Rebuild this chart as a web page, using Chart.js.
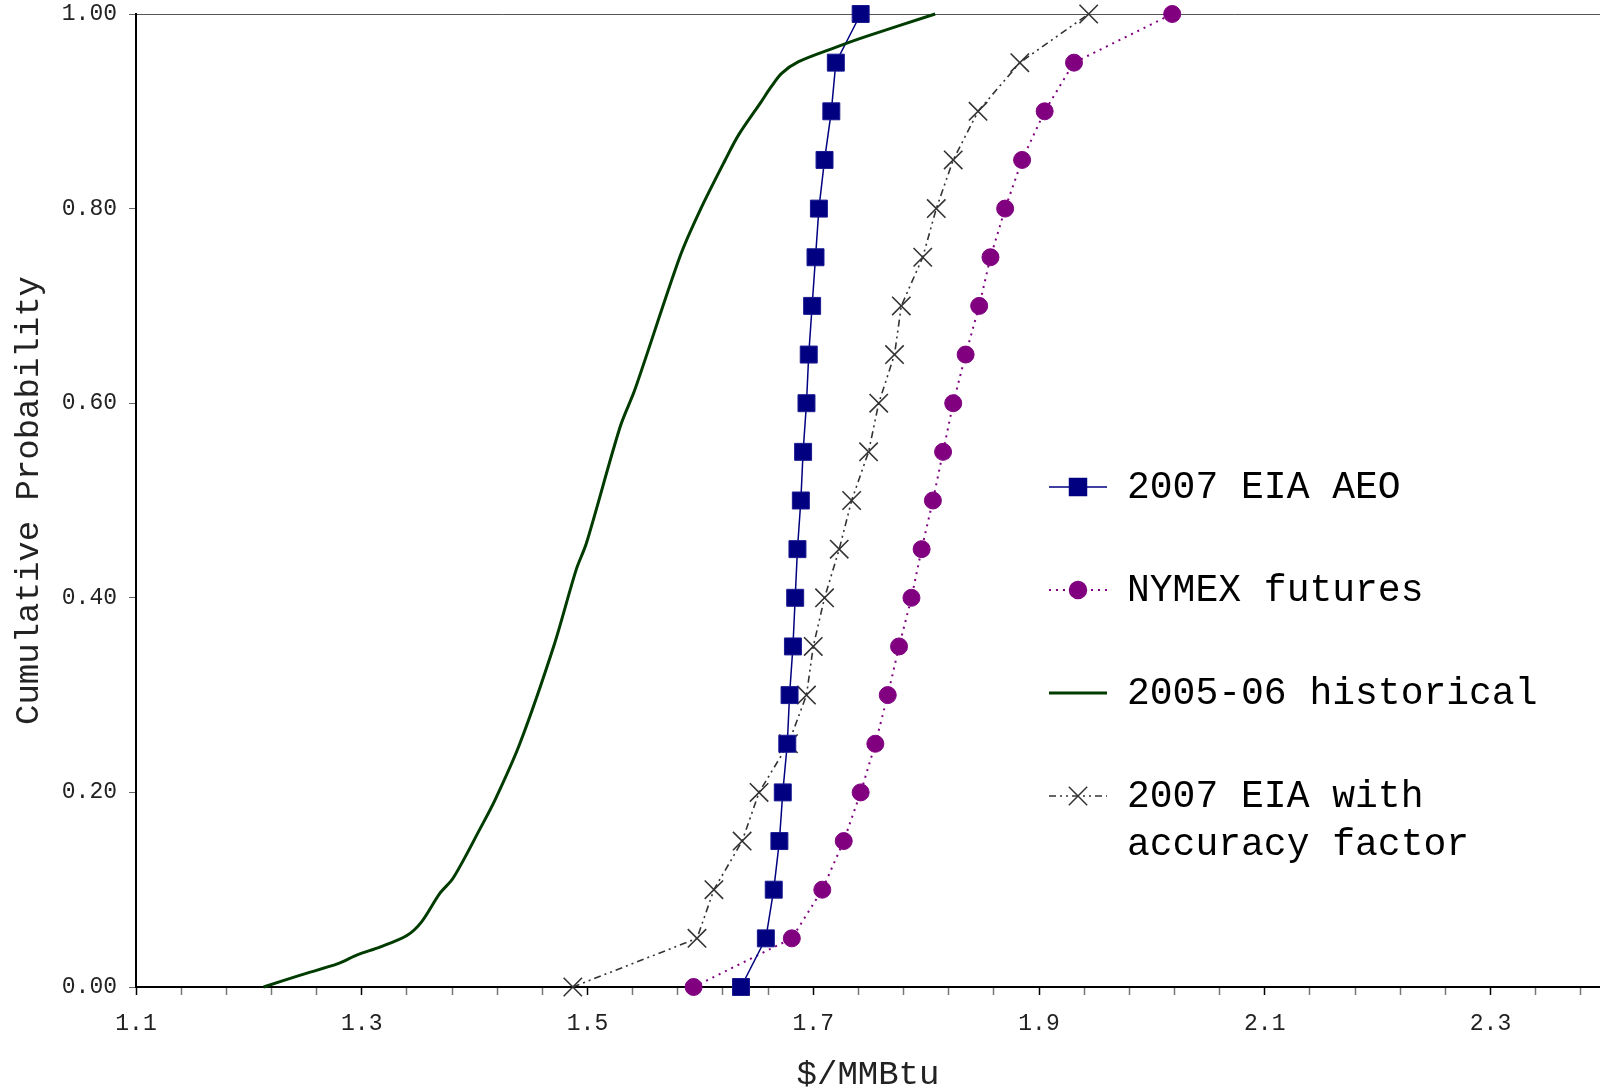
<!DOCTYPE html>
<html>
<head>
<meta charset="utf-8">
<title>Cumulative probability of gas prices</title>
<script src="https://cdn.jsdelivr.net/npm/chart.js@4.4.1/dist/chart.umd.min.js"></script>
<style>
  html, body { margin: 0; padding: 0; background: #fff; }
  #wrap { width: 1600px; height: 1088px; }
</style>
</head>
<body>
<div id="wrap"><canvas id="cdf" width="1600" height="1088"></canvas></div>
<script>
// cumulative probability levels shared by the three marker series
const probLevels = [0, 0.05, 0.10, 0.15, 0.20, 0.25, 0.30, 0.35, 0.40, 0.45, 0.50,
                    0.55, 0.60, 0.65, 0.70, 0.75, 0.80, 0.85, 0.90, 0.95, 1.00];

// $/MMBtu at each level
const aeoPrices = [1.636, 1.658, 1.665, 1.670, 1.673, 1.677, 1.679, 1.682, 1.684, 1.686, 1.689,
                   1.691, 1.694, 1.696, 1.699, 1.702, 1.705, 1.710, 1.716, 1.720, 1.742];
const nymexPrices = [1.594, 1.681, 1.708, 1.727, 1.742, 1.755, 1.766, 1.776, 1.787, 1.796, 1.806,
                     1.815, 1.824, 1.835, 1.847, 1.857, 1.870, 1.885, 1.905, 1.931, 2.018];
const accuracyPrices = [1.487, 1.597, 1.612, 1.637, 1.652, 1.678, 1.694, 1.700, 1.710, 1.723, 1.734,
                        1.749, 1.758, 1.772, 1.778, 1.797, 1.809, 1.824, 1.846, 1.883, 1.944];

// 2005-06 historical distribution (smooth curve)
const histPrices = [1.213, 1.245, 1.279, 1.296, 1.316, 1.340, 1.353, 1.369, 1.381, 1.405,
                    1.418, 1.440, 1.470, 1.490, 1.499, 1.529, 1.542, 1.582, 1.600, 1.622,
                    1.634, 1.654, 1.662, 1.672, 1.687, 1.718, 1.747, 1.808];
const histProbs = [0, 0.012, 0.024, 0.033, 0.041, 0.053, 0.067, 0.096, 0.112, 0.163,
                   0.192, 0.250, 0.350, 0.429, 0.456, 0.576, 0.614, 0.751, 0.799, 0.850,
                   0.876, 0.910, 0.924, 0.939, 0.951, 0.965, 0.977, 1.000];

const seriesNames = ['2007 EIA AEO', 'NYMEX futures', '2005-06 historical', '2007 EIA with|accuracy factor'];

const FONT = '"Liberation Mono", "Courier New", monospace';
const NAVY = '#000080', PURPLE = '#800080', GREEN = '#003b00', GREY = '#333333';

function toPoints(xs, ys) {
  return xs.map((x, i) => ({ x: x, y: ys[i] }));
}

// draws the legend inside the plot, on the right
const sideLegend = {
  id: 'sideLegend',
  afterDraw(chart) {
    const ctx = chart.ctx;
    const items = [
      { dash: [], color: NAVY, width: 1.5, style: 'rect', r: 12, fill: NAVY },
      { dash: [2, 5], color: PURPLE, width: 2, style: 'circle', r: 8.5, fill: PURPLE },
      { dash: [], color: GREEN, width: 3, style: false },
      { dash: [7, 4, 2, 4, 2, 4], color: GREY, width: 1.5, style: 'crossRot', r: 13, fill: GREY }
    ];
    const rows = [487, 590, 693, 796];
    ctx.save();
    items.forEach((it, i) => {
      const y = rows[i];
      ctx.beginPath();
      ctx.setLineDash(it.dash);
      ctx.strokeStyle = it.color;
      ctx.lineWidth = it.width;
      ctx.moveTo(1049, y);
      ctx.lineTo(1107, y);
      ctx.stroke();
      ctx.setLineDash([]);
      if (it.style) {
        ctx.fillStyle = it.fill;
        ctx.strokeStyle = it.color;
        ctx.lineWidth = 1.5;
        Chart.helpers.drawPoint(ctx, { pointStyle: it.style, radius: it.r, borderWidth: 1.5, rotation: 0 }, 1078, y);
      }
      ctx.fillStyle = '#000';
      ctx.font = '38px ' + FONT;
      ctx.textBaseline = 'middle';
      ctx.textAlign = 'left';
      seriesNames[i].split('|').forEach((line, k) => {
        ctx.fillText(line, 1127, y + 1 + k * 48);
      });
    });
    ctx.restore();
  }
};

new Chart(document.getElementById('cdf'), {
  type: 'line',
  data: {
    datasets: [
      {
        label: seriesNames[0],
        data: toPoints(aeoPrices, probLevels),
        borderColor: NAVY, borderWidth: 1.5,
        pointStyle: 'rect', pointRadius: 12, pointBackgroundColor: NAVY,
        pointBorderColor: '#1a1a90', pointBorderWidth: 1,
        tension: 0, clip: false, order: 1
      },
      {
        label: seriesNames[1],
        data: toPoints(nymexPrices, probLevels),
        borderColor: PURPLE, borderWidth: 2, borderDash: [2, 5],
        pointStyle: 'circle', pointRadius: 8.5, pointBackgroundColor: PURPLE,
        pointBorderColor: PURPLE, pointBorderWidth: 1,
        tension: 0, clip: false, order: 2
      },
      {
        label: seriesNames[2],
        data: toPoints(histPrices, histProbs),
        borderColor: GREEN, borderWidth: 3,
        pointRadius: 0, tension: 0.3, clip: false, order: 0
      },
      {
        label: seriesNames[3],
        data: toPoints(accuracyPrices, probLevels),
        borderColor: GREY, borderWidth: 1.6, borderDash: [7, 4, 2, 4, 2, 4],
        pointStyle: 'crossRot', pointRadius: 13, pointBorderColor: GREY,
        pointBorderWidth: 1.6,
        tension: 0, clip: false, order: 3
      }
    ]
  },
  options: {
    responsive: false,
    devicePixelRatio: 1,
    animation: false,
    layout: { autoPadding: false, padding: { top: 14, right: 0, bottom: 0, left: 0 } },
    plugins: {
      legend: { display: false },
      tooltip: { enabled: false }
    },
    scales: {
      x: {
        type: 'linear',
        min: 1.1,
        max: 2.397,
        afterFit(scale) {
          scale.height = 101;
          scale.paddingLeft = 0;
          scale.paddingRight = 0;
        },
        afterBuildTicks(scale) {
          const t = [];
          for (let i = 0; i <= 32; i++) t.push({ value: Math.round((1.1 + i * 0.04) * 100) / 100 });
          scale.ticks = t;
        },
        border: { color: '#000', width: 2 },
        grid: {
          drawOnChartArea: false,
          tickLength: 8,
          tickWidth: 1.5,
          tickColor: c => (c.tick && Math.abs(((c.tick.value - 1.1) / 0.2) - Math.round((c.tick.value - 1.1) / 0.2)) < 1e-6) ? '#000' : '#777'
        },
        ticks: {
          autoSkip: false,
          maxRotation: 0,
          padding: 15,
          color: '#222',
          font: { family: FONT, size: 23 },
          callback(v) {
            const k = (v - 1.1) / 0.2;
            return Math.abs(k - Math.round(k)) < 1e-6 ? v.toFixed(1) : '';
          }
        },
        title: {
          display: true,
          text: '$/MMBtu',
          color: '#222',
          font: { family: FONT, size: 34, lineHeight: 1 },
          padding: { top: 0, bottom: -4 }
        }
      },
      y: {
        min: 0,
        max: 1,
        afterFit(scale) {
          scale.width = 136;
          scale.paddingTop = 0;
          scale.paddingBottom = 0;
        },
        border: { color: '#000', width: 2 },
        grid: {
          drawOnChartArea: true,
          tickLength: 7,
          tickColor: '#666',
          color: c => (c.tick && c.tick.value === 1) ? '#555' : 'rgba(0,0,0,0)'
        },
        ticks: {
          stepSize: 0.2,
          padding: 12,
          color: '#222',
          font: { family: FONT, size: 23 },
          callback: v => v.toFixed(2)
        },
        title: {
          display: true,
          text: 'Cumulative Probability',
          color: '#222',
          font: { family: FONT, size: 34, lineHeight: 1 },
          padding: { top: 12, bottom: 0 }
        }
      }
    }
  },
  plugins: [sideLegend]
});
</script>
</body>
</html>
